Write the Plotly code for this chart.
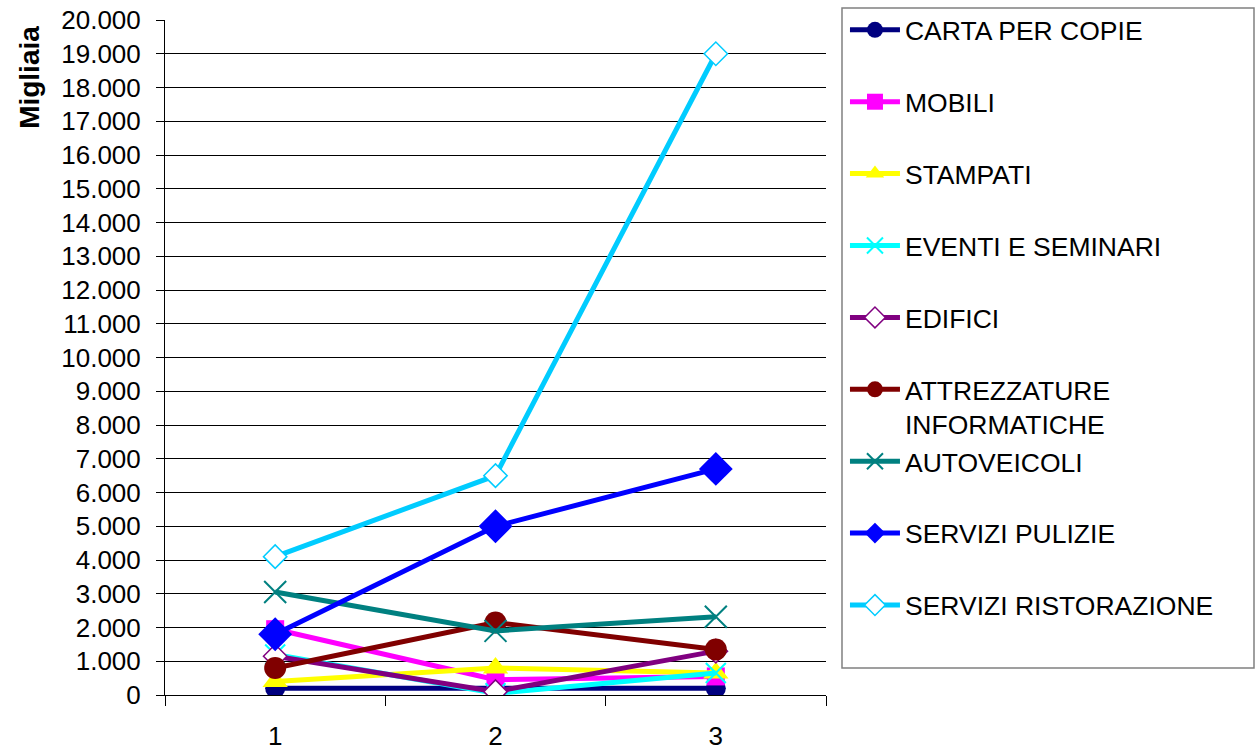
import plotly.graph_objects as go

# Periods on the category axis
periods = ["1", "2", "3"]

# Spending per category (thousands)
carta_per_copie = [200, 200, 200]
mobili = [1950, 450, 550]
stampati = [400, 800, 650]
eventi_seminari = [1200, 50, 650]
edifici = [1150, 100, 1300]
attrezzature_informatiche = [800, 2150, 1350]
autoveicoli = [3050, 1900, 2320]
servizi_pulizie = [1800, 5000, 6700]
servizi_ristorazione = [4100, 6500, 19000]

y_ticks = list(range(0, 20001, 1000))

series = [
    ("CARTA PER COPIE", carta_per_copie, "#000080",
     dict(symbol="circle", size=20, color="#000080")),
    ("MOBILI", mobili, "#FF00FF",
     dict(symbol="square", size=18, color="#FF00FF")),
    ("STAMPATI", stampati, "#FFFF00",
     dict(symbol="triangle-up", size=22, color="#FFFF00")),
    ("EVENTI E SEMINARI", eventi_seminari, "#00FFFF",
     dict(symbol="x-thin", size=20, line=dict(color="#00FFFF", width=2))),
    ("EDIFICI", edifici, "#800080",
     dict(symbol="diamond", size=18, color="white",
          line=dict(color="#800080", width=1.5))),
    ("ATTREZZATURE<br>INFORMATICHE", attrezzature_informatiche, "#800000",
     dict(symbol="circle", size=22, color="#800000")),
    ("AUTOVEICOLI", autoveicoli, "#008080",
     dict(symbol="x-thin", size=22, line=dict(color="#008080", width=2))),
    ("SERVIZI PULIZIE", servizi_pulizie, "#0000FF",
     dict(symbol="diamond", size=26, color="#0000FF")),
    ("SERVIZI RISTORAZIONE", servizi_ristorazione, "#00CCFF",
     dict(symbol="diamond", size=18, color="white",
          line=dict(color="#00CCFF", width=1.5))),
]

fig = go.Figure()
for i, (name, values, color, marker) in enumerate(series):
    # every legend entry spans two text lines so the rows stay evenly spaced
    label = name if "<br>" in name else name + "<br>\u00a0"
    fig.add_trace(go.Scatter(
        x=periods, y=values, name=label, mode="lines+markers",
        line=dict(color=color, width=5),
        marker=marker, legendgroup=f"g{i}",
    ))

font_family = "Liberation Sans, Arial, sans-serif"

# frame around the legend area
fig.add_shape(
    type="rect", xref="paper", yref="paper",
    x0=1.0242, x1=1.6475, y0=0.04, y1=1.0178,
    line=dict(color="#808080", width=1.5), fillcolor="white", layer="below",
)

fig.update_layout(
    width=1256, height=751,
    margin=dict(l=165, r=430, t=20, b=56, autoexpand=False),
    paper_bgcolor="white", plot_bgcolor="white",
    separators=",.",
    font=dict(family=font_family, color="black", size=26),
    showlegend=True,
    legend=dict(
        x=1.0287, y=1.0206, xanchor="left", yanchor="top",
        bgcolor="rgba(0,0,0,0)", borderwidth=0,
        font=dict(size=26.5, family=font_family, color="black"),
        valign="top", tracegroupgap=0, itemwidth=50,
        maxheight=740,
    ),
    xaxis=dict(
        type="category", range=[-0.5, 2.5], automargin=False,
        showgrid=False, showline=True, linecolor="black", linewidth=1,
        ticks="outside", tickson="boundaries", ticklen=10,
        tickcolor="black", tickfont=dict(size=26), ticklabelstandoff=18,
        zeroline=False, fixedrange=True,
    ),
    yaxis=dict(
        range=[0, 20000], tickvals=y_ticks, tickformat=",d",
        automargin=False,
        showgrid=True, gridcolor="black", gridwidth=1,
        showline=True, linecolor="black", linewidth=1,
        ticks="outside", ticklen=8, tickcolor="black",
        tickfont=dict(size=26), ticklabelstandoff=10,
        zeroline=False, fixedrange=True,
    ),
    annotations=[dict(
        text="<b>Migliaia</b>", textangle=-90,
        xref="paper", yref="paper", x=-0.205, y=0.915,
        xanchor="center", yanchor="middle", showarrow=False,
        font=dict(size=28, family=font_family, color="black"),
    )],
)

fig.write_html("out.html")
